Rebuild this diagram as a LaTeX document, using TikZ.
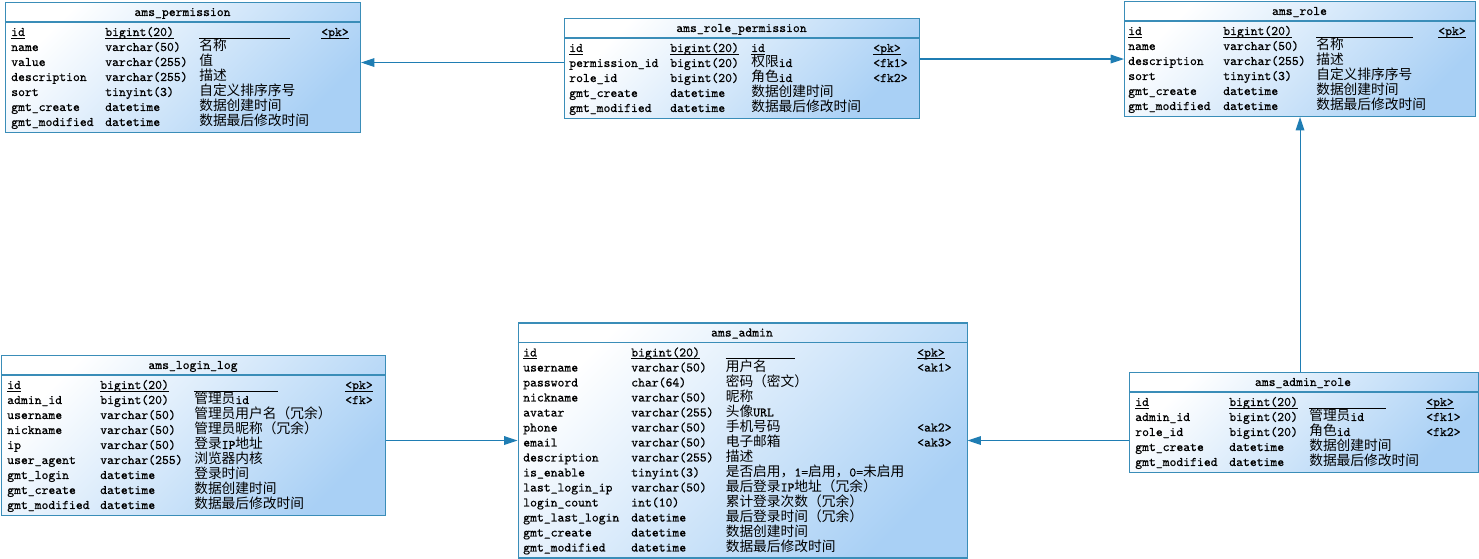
\documentclass[tikz,border=0pt]{standalone}
\usepackage{fontspec}
\newfontfamily\cjkfont{Noto Sans CJK SC}
\newfontfamily\ermmono{Latin Modern Mono}[UprightFeatures={FakeBold=0.6}]
\usepackage{tikz}
\usetikzlibrary{arrows.meta}
\definecolor{ermline}{HTML}{3A8DB8}
\definecolor{ermfill}{HTML}{A9D0F5}
\definecolor{ermlink}{HTML}{1F7DB3}
\newcommand{\zh}[1]{{\cjkfont\mdseries\fontsize{10.3}{12}\selectfont #1}}
\newcommand{\ul}[1]{\underline{\smash{#1}}}

\begin{document}
\begin{tikzpicture}[x=0.75pt,y=-0.75pt,
  tbl/.style={draw=ermline,line width=0.8pt,inner sep=0pt,anchor=north west,
    top color=white,bottom color=ermfill,shading angle=45},
  sep/.style={draw=ermline,line width=0.8pt},
  fld/.style={anchor=base west,inner sep=0pt,font=\ermmono\fontsize{9.8}{12}\selectfont},
  ttl/.style={anchor=base,inner sep=0pt,font=\ermmono\fontsize{9.8}{12}\selectfont},
  blank/.style={line width=0.45pt},
  rel/.style={draw=ermlink,line width=0.8pt,-{Triangle[length=10pt,width=6.5pt]}}]
  \useasboundingbox (0,0) rectangle (1479,559);

  %% ── ams_permission ──
  \node[tbl,minimum width=355*0.75pt,minimum height=130*0.75pt] (perm) at (5,2) {};
  \begin{scope}[shift={(5,2)}]
    \draw[sep] (0,20) -- (355,20);
    \node[ttl] (perm-title) at (177.5,14) {ams\_permission};
    \node[fld] (perm-f0) at (6,34) {\ul{id}};
    \node[fld] (perm-y0) at (100,34) {\ul{bigint(20)}};
    \draw[blank] (194,36) -- (285,36);
    \node[fld] (perm-k0) at (316,34) {\ul{<pk>}};
    \foreach \f/\t/\c/\k [count=\i] in {
        name/varchar(50)/\zh{名称}/{},
        value/varchar(255)/\zh{值}/{},
        description/varchar(255)/\zh{描述}/{},
        sort/tinyint(3)/\zh{自定义排序序号}/{},
        gmt\_create/datetime/\zh{数据创建时间}/{},
        gmt\_modified/datetime/\zh{数据最后修改时间}/{}} {
      \node[fld] (perm-f\i) at (6,{34+15*\i}) {\f};
      \node[fld] (perm-y\i) at (100,{34+15*\i}) {\t};
      \node[fld] (perm-c\i) at (194,{34+15*\i}) {\c};
      \node[fld] (perm-k\i) at (316,{34+15*\i}) {\k};
    }
  \end{scope}

  %% ── ams_role_permission ──
  \node[tbl,minimum width=355*0.75pt,minimum height=100*0.75pt] (rp) at (564,18) {};
  \begin{scope}[shift={(564,18)}]
    \draw[sep] (0,20) -- (355,20);
    \node[ttl] (rp-title) at (177.5,14) {ams\_role\_permission};
    \node[fld] (rp-f0) at (5,34) {\ul{id}};
    \node[fld] (rp-y0) at (106,34) {\ul{bigint(20)}};
    \node[fld] (rp-c0) at (187,34) {\ul{id}};
    \node[fld] (rp-k0) at (309,34) {\ul{<pk>}};
    \foreach \f/\t/\c/\k [count=\i] in {
        permission\_id/bigint(20)/\zh{权限}id/<fk1>,
        role\_id/bigint(20)/\zh{角色}id/<fk2>,
        gmt\_create/datetime/\zh{数据创建时间}/{},
        gmt\_modified/datetime/\zh{数据最后修改时间}/{}} {
      \node[fld] (rp-f\i) at (5,{34+15*\i}) {\f};
      \node[fld] (rp-y\i) at (106,{34+15*\i}) {\t};
      \node[fld] (rp-c\i) at (187,{34+15*\i}) {\c};
      \node[fld] (rp-k\i) at (309,{34+15*\i}) {\k};
    }
  \end{scope}

  %% ── ams_role ──
  \node[tbl,minimum width=351*0.75pt,minimum height=115*0.75pt] (role) at (1124,1) {};
  \begin{scope}[shift={(1124,1)}]
    \draw[sep] (0,20) -- (351,20);
    \node[ttl] (role-title) at (175.5,14) {ams\_role};
    \node[fld] (role-f0) at (4,34) {\ul{id}};
    \node[fld] (role-y0) at (99,34) {\ul{bigint(20)}};
    \draw[blank] (192,36) -- (289,36);
    \node[fld] (role-k0) at (314,34) {\ul{<pk>}};
    \foreach \f/\t/\c/\k [count=\i] in {
        name/varchar(50)/\zh{名称}/{},
        description/varchar(255)/\zh{描述}/{},
        sort/tinyint(3)/\zh{自定义排序序号}/{},
        gmt\_create/datetime/\zh{数据创建时间}/{},
        gmt\_modified/datetime/\zh{数据最后修改时间}/{}} {
      \node[fld] (role-f\i) at (4,{34+15*\i}) {\f};
      \node[fld] (role-y\i) at (99,{34+15*\i}) {\t};
      \node[fld] (role-c\i) at (192,{34+15*\i}) {\c};
      \node[fld] (role-k\i) at (314,{34+15*\i}) {\k};
    }
  \end{scope}

  %% ── ams_login_log ──
  \node[tbl,minimum width=384*0.75pt,minimum height=160*0.75pt] (log) at (1,355) {};
  \begin{scope}[shift={(1,355)}]
    \draw[sep] (0,20) -- (384,20);
    \node[ttl] (log-title) at (192,14) {ams\_login\_log};
    \node[fld] (log-f0) at (6,34) {\ul{id}};
    \node[fld] (log-y0) at (99,34) {\ul{bigint(20)}};
    \draw[blank] (193,36) -- (277,36);
    \node[fld] (log-k0) at (344,34) {\ul{<pk>}};
    \foreach \f/\t/\c/\k [count=\i] in {
        admin\_id/bigint(20)/\zh{管理员}id/<fk>,
        username/varchar(50)/\zh{管理员用户名（冗余）}/{},
        nickname/varchar(50)/\zh{管理员昵称（冗余）}/{},
        ip/varchar(50)/\zh{登录}IP\zh{地址}/{},
        user\_agent/varchar(255)/\zh{浏览器内核}/{},
        gmt\_login/datetime/\zh{登录时间}/{},
        gmt\_create/datetime/\zh{数据创建时间}/{},
        gmt\_modified/datetime/\zh{数据最后修改时间}/{}} {
      \node[fld] (log-f\i) at (6,{34+15*\i}) {\f};
      \node[fld] (log-y\i) at (99,{34+15*\i}) {\t};
      \node[fld] (log-c\i) at (193,{34+15*\i}) {\c};
      \node[fld] (log-k\i) at (344,{34+15*\i}) {\k};
    }
  \end{scope}

  %% ── ams_admin ──
  \node[tbl,minimum width=449*0.75pt,minimum height=235*0.75pt] (admin) at (517.5,322.5) {};
  \begin{scope}[shift={(517.5,322.5)}]
    \draw[sep] (0,20) -- (449,20);
    \node[ttl] (admin-title) at (224.5,14) {ams\_admin};
    \node[fld] (admin-f0) at (5.5,34) {\ul{id}};
    \node[fld] (admin-y0) at (113.5,34) {\ul{bigint(20)}};
    \draw[blank] (208,36) -- (277,36);
    \node[fld] (admin-k0) at (399.5,34) {\ul{<pk>}};
    \foreach \f/\t/\c/\k [count=\i] in {
        username/varchar(50)/\zh{用户名}/<ak1>,
        password/char(64)/\zh{密码（密文）}/{},
        nickname/varchar(50)/\zh{昵称}/{},
        avatar/varchar(255)/\zh{头像}URL/{},
        phone/varchar(50)/\zh{手机号码}/<ak2>,
        email/varchar(50)/\zh{电子邮箱}/<ak3>,
        description/varchar(255)/\zh{描述}/{},
        is\_enable/tinyint(3)/\zh{是否启用，}1=\zh{启用，}0=\zh{未启用}/{},
        last\_login\_ip/varchar(50)/\zh{最后登录}IP\zh{地址（冗余）}/{},
        login\_count/int(10)/\zh{累计登录次数（冗余）}/{},
        gmt\_last\_login/datetime/\zh{最后登录时间（冗余）}/{},
        gmt\_create/datetime/\zh{数据创建时间}/{},
        gmt\_modified/datetime/\zh{数据最后修改时间}/{}} {
      \node[fld] (admin-f\i) at (5.5,{34+15*\i}) {\f};
      \node[fld] (admin-y\i) at (113.5,{34+15*\i}) {\t};
      \node[fld] (admin-c\i) at (208,{34+15*\i}) {\c};
      \node[fld] (admin-k\i) at (399.5,{34+15*\i}) {\k};
    }
  \end{scope}

  %% ── ams_admin_role ──
  \node[tbl,minimum width=348.5*0.75pt,minimum height=100*0.75pt] (ar) at (1129,372) {};
  \begin{scope}[shift={(1129,372)}]
    \draw[sep] (0,20) -- (348.5,20);
    \node[ttl] (ar-title) at (174,14) {ams\_admin\_role};
    \node[fld] (ar-f0) at (6,34) {\ul{id}};
    \node[fld] (ar-y0) at (100,34) {\ul{bigint(20)}};
    \draw[blank] (180,36) -- (257,36);
    \node[fld] (ar-k0) at (297,34) {\ul{<pk>}};
    \foreach \f/\t/\c/\k [count=\i] in {
        admin\_id/bigint(20)/\zh{管理员}id/<fk1>,
        role\_id/bigint(20)/\zh{角色}id/<fk2>,
        gmt\_create/datetime/\zh{数据创建时间}/{},
        gmt\_modified/datetime/\zh{数据最后修改时间}/{}} {
      \node[fld] (ar-f\i) at (6,{34+15*\i}) {\f};
      \node[fld] (ar-y\i) at (100,{34+15*\i}) {\t};
      \node[fld] (ar-c\i) at (180,{34+15*\i}) {\c};
      \node[fld] (ar-k\i) at (297,{34+15*\i}) {\k};
    }
  \end{scope}

  %% ── references ──
  \coordinate (rp-out) at ([yshift=4.5pt]rp.west);
  \draw[rel] (rp-out) -- (rp-out -| perm.east);
  \draw[rel] (rp.east |- role.west) -- (role.west);
  \draw[rel] (role.south |- ar.north) -- (role.south);
  \draw[rel] (admin.west -| log.east) -- (admin.west);
  \draw[rel] (admin.east -| ar.west) -- (admin.east);
\end{tikzpicture}
\end{document}
